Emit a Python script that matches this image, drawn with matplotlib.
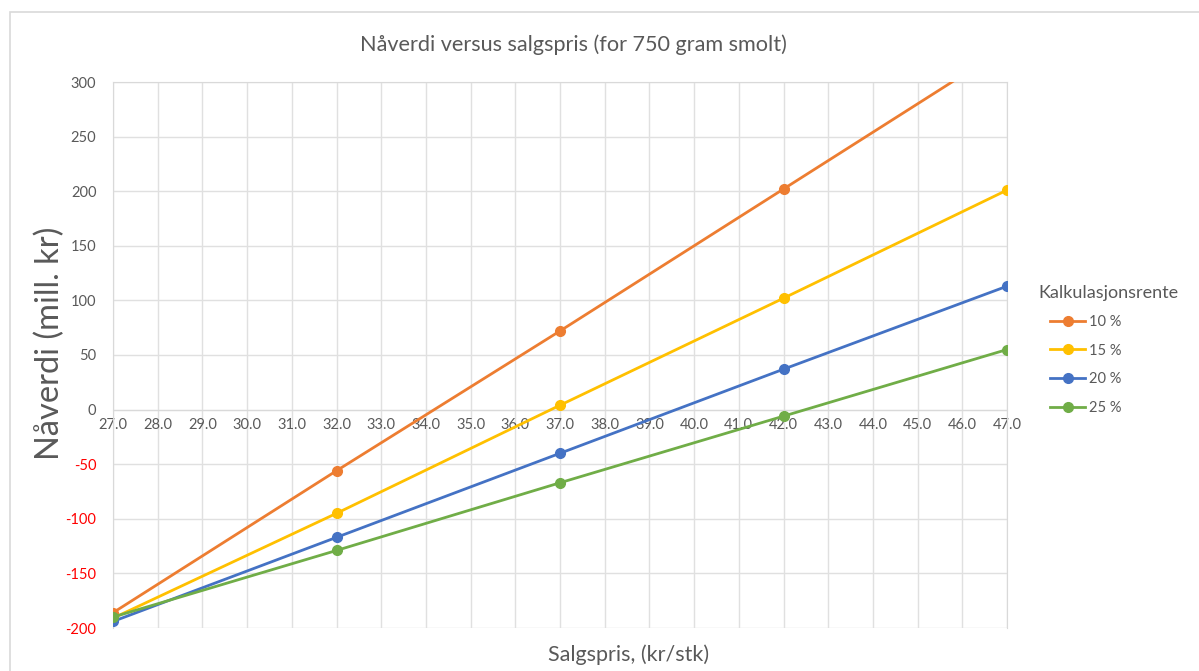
import matplotlib
matplotlib.use("Agg")
import matplotlib.pyplot as plt
from matplotlib.patches import Rectangle

plt.rcParams['font.family'] = ['Lato', 'DejaVu Sans']

# Sales price (kr/stk) and net present value (mill. kr) per discount rate
prices = [27.0, 32.0, 37.0, 42.0, 47.0]
npv_10 = [-186, -56, 72, 202, 332]
npv_15 = [-191, -95, 4, 102, 201]
npv_20 = [-194, -117, -40, 37, 113]
npv_25 = [-190, -129, -67, -6, 55]
series_labels = ['10 %', '15 %', '20 %', '25 %']
series_colors = ['#ED7D31', '#FFC000', '#4472C4', '#70AD47']

x_ticks = [27.0 + i for i in range(21)]
y_ticks = [-200, -150, -100, -50, 0, 50, 100, 150, 200, 250, 300]

TEXT_GRAY = '#595959'
W, H = 1199, 671
fig = plt.figure(figsize=(W / 100, H / 100), dpi=100)
fig.patch.set_facecolor('white')

# outer chart frame
fig.patches.append(Rectangle((10 / W, -0.1), 1.2, (H - 12) / H + 0.1,
                             transform=fig.transFigure, fill=False,
                             edgecolor='#D9D9D9', linewidth=1.2))

left, right, top, bottom = 113, 1007, 82, 628
ax = fig.add_axes([left / W, 1 - bottom / H, (right - left) / W, (bottom - top) / H])

for vals, lab, col in zip([npv_10, npv_15, npv_20, npv_25], series_labels, series_colors):
    ax.plot(prices, vals, color=col, linewidth=2.0, marker='o', markersize=7,
            label=lab, zorder=3)

ax.set_xlim(27, 47)
ax.set_ylim(-200, 300)
ax.set_xticks(x_ticks)
ax.set_yticks(y_ticks)
ax.set_xticklabels([f'{v:.1f}' for v in x_ticks])
ax.set_yticklabels([str(v) for v in y_ticks])
ax.tick_params(axis='both', length=0, labelsize=10.5, labelcolor=TEXT_GRAY)
for lbl, v in zip(ax.get_yticklabels(), y_ticks):
    lbl.set_color('#FF0000' if v < 0 else TEXT_GRAY)
ax.tick_params(axis='y', pad=12)
ax.tick_params(axis='x', pad=6)
ax.spines['bottom'].set_position(('data', 0))
ax.spines['bottom'].set_color('#D9D9D9')
for s in ['top', 'right', 'left']:
    ax.spines[s].set_color('#D9D9D9')
ax.grid(True, color='#E0E0E0', linewidth=1)
ax.set_axisbelow(True)

fig.text(573 / W, 1 - 45 / H, 'Nåverdi versus salgspris (for 750 gram smolt)',
         ha='center', va='center', fontsize=15.6, color=TEXT_GRAY)
fig.text(50 / W, 1 - 343 / H, 'Nåverdi (mill. kr)', rotation=90,
         ha='center', va='center', fontsize=23.5, color=TEXT_GRAY)
fig.text(629 / W, 1 - 655 / H, 'Salgspris, (kr/stk)',
         ha='center', va='center', fontsize=15.5, color=TEXT_GRAY)

# legend: title as separate text, entries indented beneath it
fig.text(1038 / W, 1 - 293 / H, 'Kalkulasjonsrente', ha='left', va='center',
         fontsize=13, color=TEXT_GRAY)
leg = fig.legend(loc='upper left', bbox_to_anchor=(1050 / W, 1 - 315 / H),
                 frameon=False, fontsize=10.5, borderpad=0, borderaxespad=0,
                 handlelength=2.4, labelspacing=1.0, handletextpad=0.3)
for t in leg.get_texts():
    t.set_color(TEXT_GRAY)

fig.savefig('out.png', dpi=100)
